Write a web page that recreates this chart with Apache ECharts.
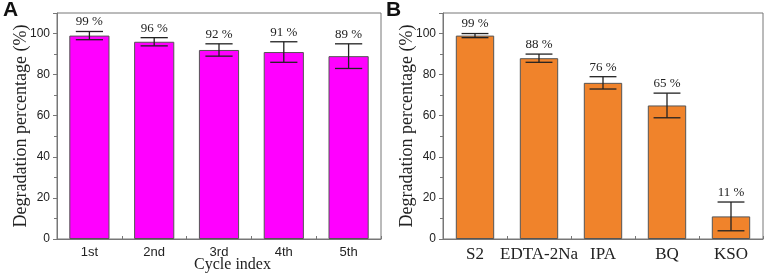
<!DOCTYPE html>
<html><head><meta charset="utf-8">
<script src="https://cdn.jsdelivr.net/npm/echarts@6/dist/echarts.min.js"></script>
<style>html,body{margin:0;padding:0;background:#fff}#c{width:768px;height:274px}</style>
</head><body><div id="c"></div>
<script>
const catsA = ['1st', '2nd', '3rd', '4th', '5th'];
const valsA = [99, 96, 92, 91, 89];
const errA = [2, 2, 3, 5, 6];
const catsB = ['S2', 'EDTA-2Na', 'IPA', 'BQ', 'KSO'];
const valsB = [99, 88, 76, 65, 11];
const errB = [1, 2, 3, 6, 7];
const yTicks = [0, 20, 40, 60, 80, 100];

const chart = echarts.init(document.getElementById('c'), null, {renderer: 'canvas'});
const axisColor = '#777';
const textColor = '#222';
const serif = '"Liberation Serif", "DejaVu Serif", serif';
const sans = '"Liberation Sans", Arial, sans-serif';

function yAxisCfg(gi) {
  return {
    gridIndex: gi, type: 'value', min: 0, max: 110, interval: 20,
    name: 'Degradation percentage (%)', nameLocation: 'middle', nameGap: 27, nameMoveOverlap: false,
    nameTextStyle: {fontFamily: serif, fontSize: 18, color: textColor},
    axisLine: {show: true, lineStyle: {color: axisColor}},
    axisTick: {show: true, inside: false, length: 4, lineStyle: {color: axisColor}},
    minorTick: {show: true, splitNumber: 2, length: 3, lineStyle: {color: axisColor}},
    splitLine: {show: false},
    axisLabel: {fontFamily: sans, fontSize: 12, color: textColor, margin: 7,
      showMaxLabel: false,
      formatter: v => yTicks.includes(v) ? String(v) : ''}
  };
}
function xAxisCfg(gi, cats, font, size, name) {
  return {
    gridIndex: gi, type: 'category', data: cats,
    name: name || '', nameLocation: 'middle', nameGap: 18, nameMoveOverlap: false,
    nameTextStyle: {fontFamily: serif, fontSize: 16, color: textColor, padding: [0, 0, 0, 27]},
    axisLine: {show: true, lineStyle: {color: axisColor}},
    axisTick: {show: true, inside: true, length: 3, lineStyle: {color: axisColor}},
    axisLabel: {fontFamily: font, fontSize: size, color: textColor, margin: 7, interval: 0, hideOverlap: false}
  };
}
function errSeries(xi, vals, errs) {
  return {
    type: 'custom', xAxisIndex: xi, yAxisIndex: xi, z: 5,
    data: vals.map((v, i) => [i, v, errs[i]]),
    renderItem: function (params, api) {
      const i = api.value(0), v = api.value(1), e = api.value(2);
      const top = api.coord([i, v + e]);
      const bot = api.coord([i, v - e]);
      const bw = api.size([1, 0])[0];
      const hw = bw * 0.21;
      const ls = {stroke: '#222', lineWidth: 1.3};
      return {
        type: 'group', children: [
          {type: 'line', shape: {x1: top[0], y1: top[1], x2: bot[0], y2: bot[1]}, style: ls},
          {type: 'line', shape: {x1: top[0] - hw, y1: top[1], x2: top[0] + hw, y2: top[1]}, style: ls},
          {type: 'line', shape: {x1: bot[0] - hw, y1: bot[1], x2: bot[0] + hw, y2: bot[1]}, style: ls},
          {type: 'text', style: {text: v + ' %', x: top[0], y: top[1] - 3, align: 'center', verticalAlign: 'bottom',
            font: '13px ' + serif, fill: textColor}}
        ]
      };
    }
  };
}

chart.setOption({
  animation: false,
  grid: [
    {left: 57, right: 387, top: 13, bottom: 35, show: true, borderColor: axisColor, borderWidth: 1, outerBoundsMode: 'none', containLabel: false},
    {left: 443, right: 5, top: 13, bottom: 35, show: true, borderColor: axisColor, borderWidth: 1, outerBoundsMode: 'none', containLabel: false}
  ],
  xAxis: [xAxisCfg(0, catsA, sans, 13, 'Cycle index'), xAxisCfg(1, catsB, serif, 17)],
  yAxis: [yAxisCfg(0), yAxisCfg(1)],
  graphic: [
    {type: 'text', left: 3, top: 0, style: {text: 'A', font: 'bold 21px ' + sans, fill: '#111'}},
    {type: 'text', left: 386, top: 0, style: {text: 'B', font: 'bold 21px ' + sans, fill: '#111'}}
  ],
  series: [
    {type: 'bar', xAxisIndex: 0, yAxisIndex: 0, data: valsA, barWidth: '62%',
      itemStyle: {color: '#FF00FF', borderColor: '#555', borderWidth: 1}},
    {type: 'bar', xAxisIndex: 1, yAxisIndex: 1, data: valsB, barWidth: '60%',
      itemStyle: {color: '#F0832B', borderColor: '#555', borderWidth: 1}},
    errSeries(0, valsA, errA),
    errSeries(1, valsB, errB)
  ]
});
</script></body></html>
